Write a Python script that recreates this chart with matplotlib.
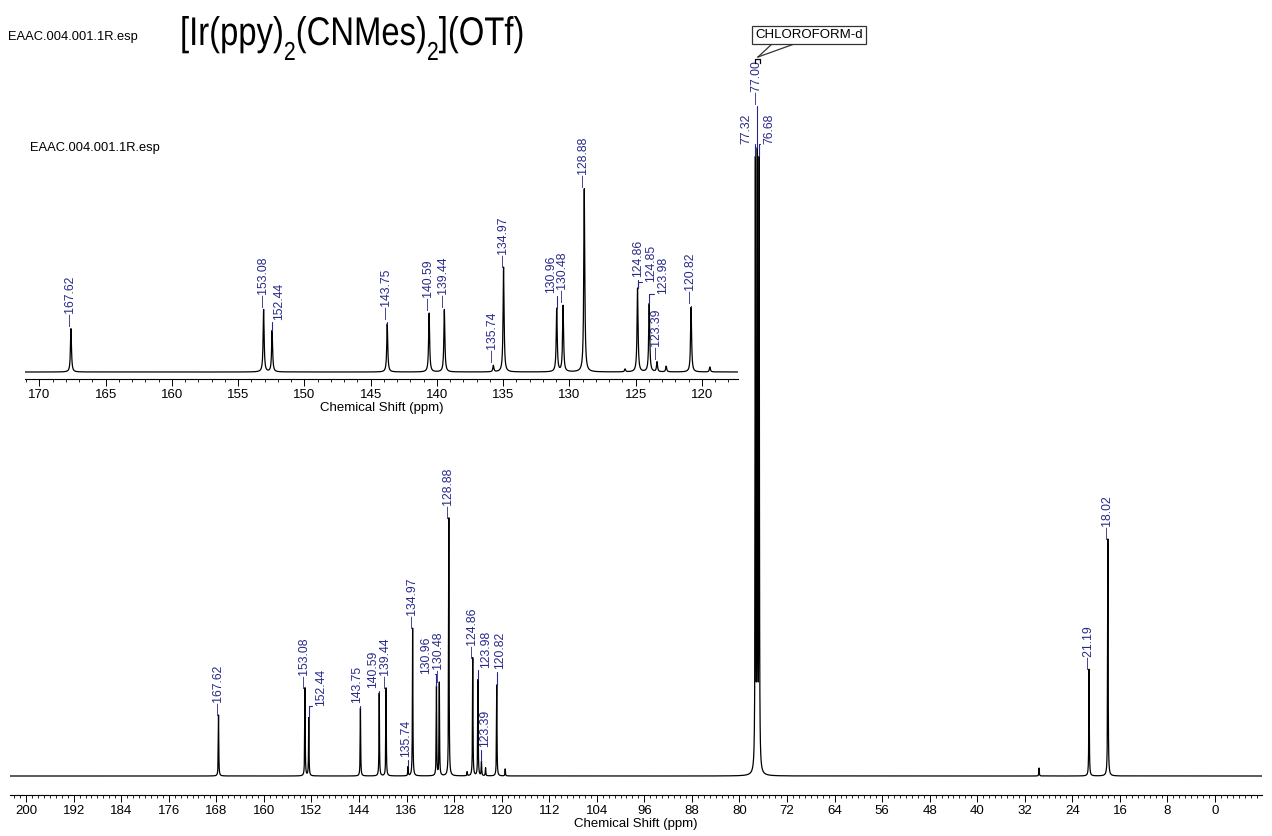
import numpy as np
import matplotlib
matplotlib.use('Agg')
import matplotlib.pyplot as plt
from matplotlib.font_manager import FontProperties
from matplotlib.lines import Line2D
from matplotlib.patches import PathPatch
from matplotlib.textpath import TextPath, TextToPath
from matplotlib.transforms import Affine2D
from matplotlib.ticker import MultipleLocator

# 13C peaks: shift (ppm) and height (px above baseline, full view)
peak_ppm = [167.62, 153.08, 152.44, 143.75, 140.59, 139.44, 135.74, 134.97,
            130.96, 130.48, 128.88, 124.86, 123.98, 123.39, 120.82,
            77.32, 77.00, 76.68, 21.19, 18.02]
peak_height = [61, 88, 58, 68, 83, 88, 9, 148,
               89, 93, 258, 118, 96, 14, 91,
               605, 605, 605, 107, 237]
# small unlabelled bumps
bump_ppm = [125.8, 122.7, 119.4, 29.6]
bump_height = [4, 8, 7, 8]

main_labels = [167.62, 153.08, 152.44, 143.75, 140.59, 139.44, 135.74, 134.97,
               130.96, 130.48, 128.88, 124.86, 123.98, 123.39, 120.82,
               77.32, 77.00, 76.68, 21.19, 18.02]
inset_labels = [167.62, 153.08, 152.44, 143.75, 140.59, 139.44, 135.74, 134.97,
                130.96, 130.48, 128.88, 124.86, 124.85, 123.98, 123.39, 120.82]

title_parts = [('[Ir(ppy)', False), ('2', True), ('(CNMes)', False), ('2', True), ('](OTf)', False)]

# label placement (px): horizontal shift, gap above peak top
main_off = {152.44: (12, 12), 143.75: (-3, 5), 140.59: (-6, 5), 135.74: (-2, 9),
            130.96: (-10, 12), 123.98: (8, 12), 123.39: (4, 14), 120.82: (3, 16),
            77.32: (-9, 12), 77.00: (0, 44), 76.68: (10, 12)}
inset_off = {167.62: (0, 3), 153.08: (0, 2), 152.44: (7, 11), 143.75: (0, 5),
             140.59: (0, 3), 139.44: (0, 2), 135.74: (0, 3), 130.96: (-6, 15),
             130.48: (0, 3), 128.88: (0, 2), 124.86: (1, 11), 124.85: (13, 6),
             123.98: (14, 10), 123.39: (0, 3), 120.82: (0, 4)}

plt.rcParams['font.family'] = ['Liberation Sans', 'DejaVu Sans']

lblc = '#27298a'
W, H = 1272, 836

# spectrum from the peak list (lorentzian lines)
ppm = np.arange(-9, 203, 0.004)
spec = np.zeros_like(ppm)
for p, h in zip(peak_ppm + bump_ppm, peak_height + bump_height):
    spec += h / (1 + ((ppm - p) / 0.045) ** 2)


def px(x, y):
    return x / W, 1 - y / H


def put_labels(ax, labels, offs):
    for v in labels:
        dx, dy = offs.get(v, (0, 0))
        near = np.abs(ppm - v) < 0.05
        top = spec[near].max()
        txt = f'{v:.2f}' if dx else '\u2014' + f'{v:.2f}'
        kw = {}
        if dx != 0 or dy > 3:
            kw['arrowprops'] = dict(arrowstyle='-', color=lblc, lw=0.8, shrinkA=0, shrinkB=0,
                                    relpos=(0.5, 0),
                                    connectionstyle='angle,angleA=0,angleB=90,rad=0')
        ax.annotate(txt, xy=(v, top), xytext=(dx * 0.72, dy * 0.72), textcoords='offset points',
                    rotation=90, ha='center', va='bottom', fontsize=8.8, color=lblc,
                    annotation_clip=False, **kw)


def style_axis(a, major):
    for s in ['top', 'left', 'right']:
        a.spines[s].set_visible(False)
    a.spines['bottom'].set_linewidth(0.8)
    a.set_yticks([])
    a.xaxis.set_major_locator(MultipleLocator(major))
    a.xaxis.set_minor_locator(MultipleLocator(1))
    a.tick_params(axis='x', which='major', length=5, width=0.7, pad=2, labelsize=9.5)
    a.tick_params(axis='x', which='minor', length=2.5, width=0.6)
    a.set_xlabel('Chemical Shift (ppm)', fontsize=9.5, labelpad=1)
    a.patch.set_alpha(0)


fig = plt.figure(figsize=(W / 100, H / 100), dpi=100)

# full spectrum
ax = fig.add_axes([10 / W, 1 - 795 / H, 1252 / W, 695 / H])
ax.plot(ppm, spec, color='black', lw=0.9)
ax.set_xlim(202.7, -7.9)
ax.set_ylim(-19, 676)
style_axis(ax, 8)
put_labels(ax, main_labels, main_off)

# expanded aromatic region
sc = 0.71
ins = fig.add_axes([25 / W, 1 - 379 / H, 713 / W, 219 / H])
ins.plot(ppm, spec, color='black', lw=0.9)
ins.set_xlim(171.09, 117.28)
ins.set_ylim(-7 / sc, 212 / sc)
style_axis(ins, 5)
put_labels(ins, inset_labels, inset_off)

# header texts
fig.text(*px(8, 37), 'EAAC.004.001.1R.esp', va='center', fontsize=9.3)
fig.text(*px(30, 148), 'EAAC.004.001.1R.esp', va='center', fontsize=9.3)

# title drawn as squeezed glyph paths, subscripts dropped below the baseline
fp = FontProperties(family='Liberation Sans')
t2p = TextToPath()
x0, base = 180.0, 45.0
for s, sub in title_parts:
    size = 26 if sub else 40
    drop = 15 if sub else 0
    path = TextPath((0, 0), s, size=size, prop=fp)
    tr = Affine2D().scale(0.82, 1).translate(x0, H - base - drop).scale(1 / W, 1 / H) + fig.transFigure
    fig.add_artist(PathPatch(path, transform=tr, fc='black', ec='none'))
    w = t2p.get_text_width_height_descent(s, fp.copy(), ismath=False)[0]
    x0 += w * size / fp.get_size_in_points() * 0.82

# solvent callout
fig.text(*px(809, 35), 'CHLOROFORM-d', ha='center', va='center', fontsize=9.5,
         bbox=dict(boxstyle='square,pad=0.25', fc='white', ec='#333333', lw=0.9))
for bx in (773, 797):
    fig.add_artist(Line2D(*zip(px(758, 57), px(bx, 43)), transform=fig.transFigure,
                          color='#333333', lw=0.9))
fig.add_artist(Line2D(*zip(px(755, 63), px(755, 59), px(760, 59), px(760, 63)),
                      transform=fig.transFigure, color='black', lw=0.9))

fig.savefig('out.png', dpi=100)
